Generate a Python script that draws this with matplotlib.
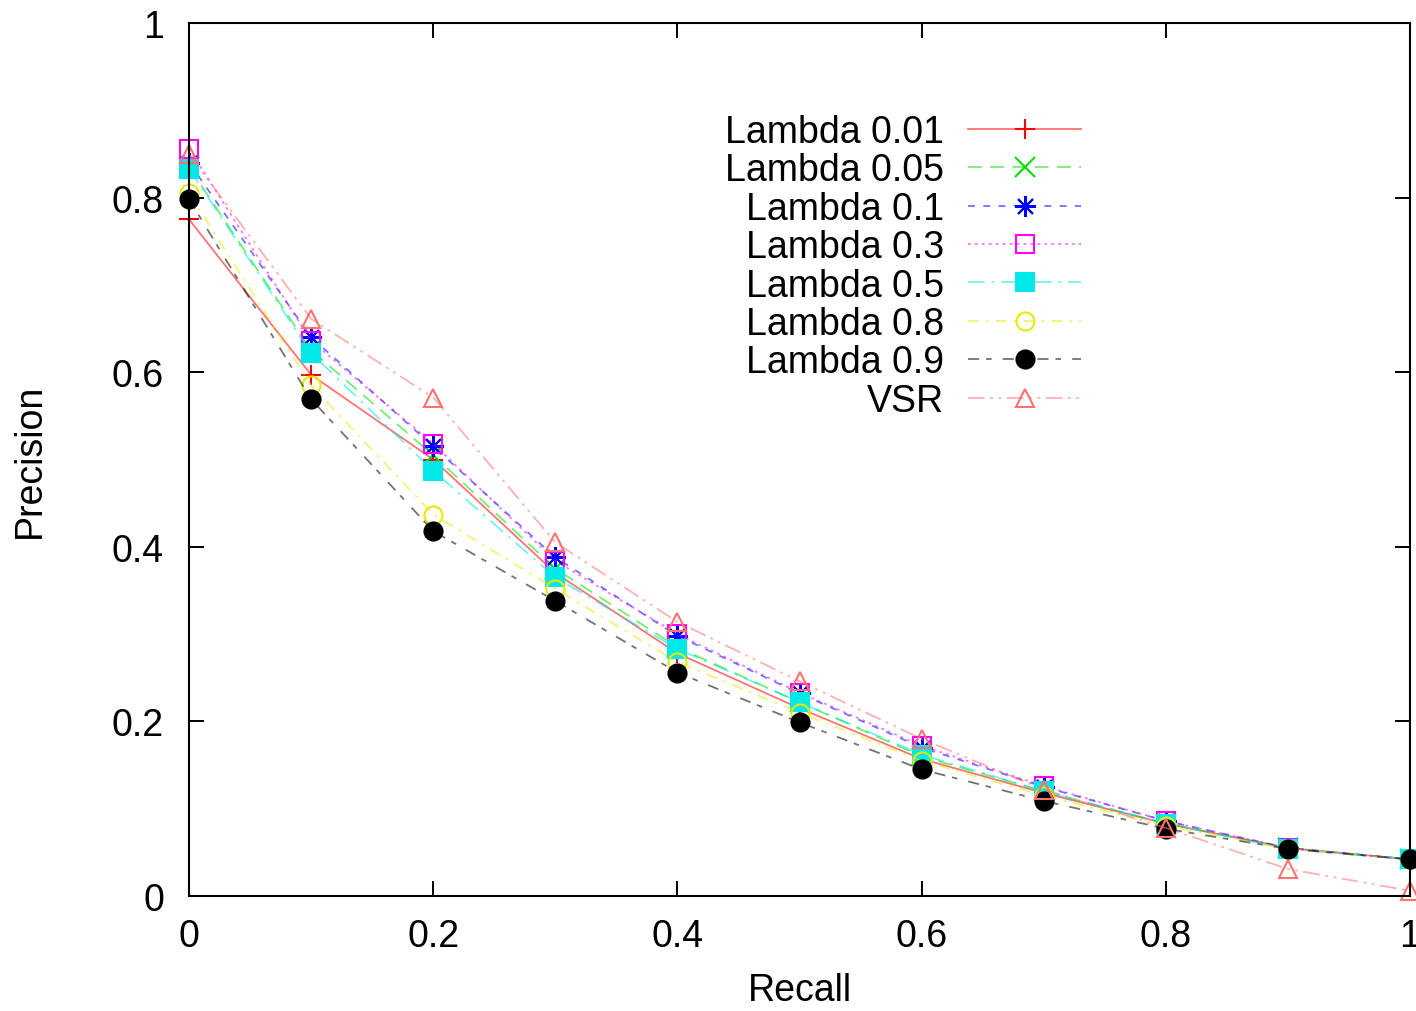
import numpy as np
import matplotlib.pyplot as plt

plt.rcParams['font.family'] = ['Liberation Sans', 'DejaVu Sans']
plt.rcParams['lines.scale_dashes'] = False

# Data
recall = [0.0, 0.1, 0.2, 0.3, 0.4, 0.5, 0.6, 0.7, 0.8, 0.9, 1.0]
lambda_001 = [0.775, 0.597, 0.500, 0.370, 0.278, 0.215, 0.157, 0.118, 0.083, 0.055, 0.042]
lambda_005 = [0.835, 0.625, 0.505, 0.375, 0.285, 0.222, 0.160, 0.120, 0.083, 0.055, 0.042]
lambda_01 = [0.840, 0.640, 0.515, 0.388, 0.298, 0.232, 0.170, 0.125, 0.086, 0.055, 0.042]
lambda_03 = [0.856, 0.636, 0.518, 0.384, 0.300, 0.233, 0.172, 0.126, 0.086, 0.055, 0.042]
lambda_05 = [0.833, 0.622, 0.487, 0.365, 0.283, 0.222, 0.162, 0.120, 0.083, 0.054, 0.042]
lambda_08 = [0.805, 0.585, 0.437, 0.352, 0.268, 0.210, 0.155, 0.115, 0.080, 0.054, 0.042]
lambda_09 = [0.798, 0.569, 0.418, 0.338, 0.256, 0.199, 0.145, 0.109, 0.077, 0.054, 0.042]
vsr = [0.850, 0.661, 0.571, 0.405, 0.314, 0.246, 0.180, 0.122, 0.078, 0.031, 0.006]

labels = ['Lambda 0.01', 'Lambda 0.05', 'Lambda 0.1', 'Lambda 0.3',
          'Lambda 0.5', 'Lambda 0.8', 'Lambda 0.9', 'VSR']
series = [lambda_001, lambda_005, lambda_01, lambda_03, lambda_05, lambda_08, lambda_09, vsr]

# gnuplot-like styles: (color, marker, filled, dashes)
styles = [
    ('#ff0000', '+', False, (None, None)),
    ('#00e000', 'x', False, (0, (10, 6))),
    ('#0000ff', (8, 2, 0), False, (0, (5, 6))),
    ('#ff00ff', 's', False, (0, (2, 3))),
    ('#00e8e8', 's', True, (0, (12, 5, 2, 5))),
    ('#e8e800', 'o', False, (0, (8, 5, 2, 5))),
    ('#000000', 'o', True, (0, (8, 5, 4, 8))),
    ('#ff7070', '^', False, (0, (12, 4, 2, 4, 2, 4))),
]

fig = plt.figure(figsize=(14.16, 10.12), dpi=100)
ax = fig.add_axes([0.1335, 0.1136, 0.8623, 0.8627])

for vals, lab, (col, mk, filled, ls) in zip(series, labels, styles):
    rgba = plt.matplotlib.colors.to_rgba(col, 0.55)
    ms = 15 if mk in ('+', 'x', (8, 2, 0)) else 13
    line_ls = '-' if ls == (None, None) else ls
    ax.plot(recall, vals, color=rgba, linestyle=line_ls, linewidth=1.3,
            marker=mk, markersize=ms, markeredgewidth=1.5,
            markeredgecolor=col, markerfacecolor=col if filled else 'none',
            label=lab, clip_on=False)

ax.set_xlim(0, 1)
ax.set_ylim(0, 1)
ax.set_xticks([0, 0.2, 0.4, 0.6, 0.8, 1])
ax.set_yticks([0, 0.2, 0.4, 0.6, 0.8, 1])
ax.set_xticklabels(['0', '0.2', '0.4', '0.6', '0.8', '1'])
ax.set_yticklabels(['0', '0.2', '0.4', '0.6', '0.8', '1'])
ax.tick_params(direction='in', length=11, width=1.4, top=True, right=True,
               labelsize=27, colors='black')
ax.tick_params(axis='x', pad=16)
ax.tick_params(axis='y', pad=18)
for sp in ax.spines.values():
    sp.set_linewidth(1.5)

ax.set_xlabel('Recall', fontsize=27, labelpad=13)
ax.set_ylabel('Precision', fontsize=27, labelpad=46)

ax.legend(loc='upper left', bbox_to_anchor=(0.439, 0.896), frameon=False,
          markerfirst=False, fontsize=27, handlelength=3.0, handletextpad=0.65,
          labelspacing=0.065, borderpad=0, borderaxespad=0)

plt.savefig('out.png', dpi=100)
